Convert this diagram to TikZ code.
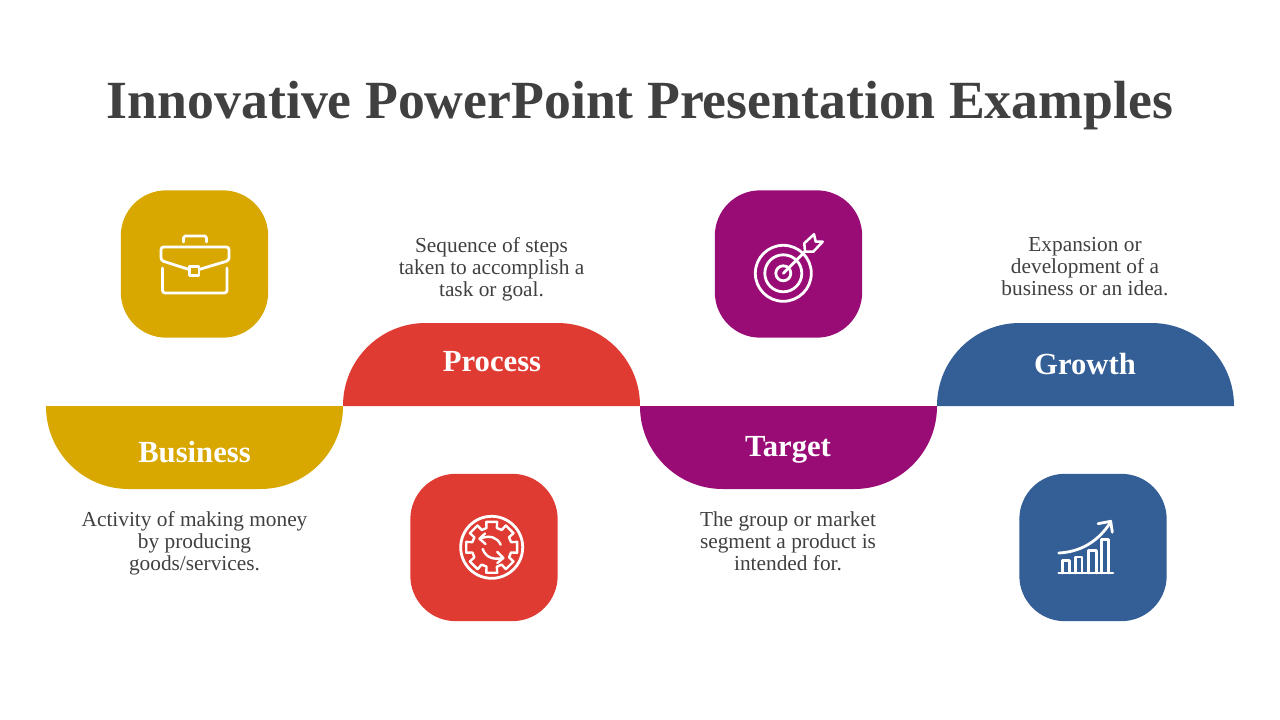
\documentclass[tikz,border=0pt]{standalone}
\usepackage{fontspec}
\setmainfont{Liberation Serif}
\usetikzlibrary{calc}
\definecolor{cgold}{HTML}{D8A800}
\definecolor{cred}{HTML}{E03B32}
\definecolor{cpurple}{HTML}{990C76}
\definecolor{cblue}{HTML}{335E96}
\definecolor{ctext}{HTML}{404040}
\tikzstyle{tile}=[rectangle,minimum width=110.5pt,minimum height=110.5pt,inner sep=0pt,rounded corners=34pt, anchor = center]
\tikzstyle{annot} = [align=center,text=ctext,inner sep=0pt,font=\fontsize{16}{16.5}\selectfont,execute at begin node=\strut,execute at end node=\strut]
\tikzstyle{head} = [align=center,text=white,font=\fontsize{23}{24}\selectfont\bfseries]
\tikzstyle{icon} = [draw=white,line width=2.1pt,line cap=round,line join=round]
\newcommand{\drawhump}[3]
{
  \fill[#1] (#2,406) [rounded corners=62pt] -- (#2,#3) -- ($(#2,#3)+(297,0)$) [sharp corners] -- ($(#2,406)+(297,0)$) -- cycle;
}

\begin{document}
\begin{tikzpicture}[x=0.75pt,y=-0.75pt]
	\useasboundingbox (0,0) rectangle (1280,720);

	\node[font=\fontsize{40.3}{48}\selectfont\bfseries,text=ctext] (title) at (640,106) {Innovative PowerPoint Presentation Examples};

	\drawhump{cgold}{46}{489}
	\drawhump{cred}{343}{323}
	\drawhump{cpurple}{640}{489}
	\drawhump{cblue}{937}{323}

	\node[head] (business) at (194.5,452) {Business};
	\node[head] (process) at (492,361.5) {Process};
	\node[head] (target) at (788,450) {Target};
	\node[head] (growth) at (1085,364) {Growth};

	\node[annot] (businesstext) at (194.5,544) {Activity of making money\\by producing\\goods/services.};
	\node[annot] (processtext) at (491.5,270) {Sequence of steps\\taken to accomplish a\\task or goal.};
	\node[annot] (targettext) at (788,544) {The group or market\\segment a product is\\intended for.};
	\node[annot] (growthtext) at (1085,270) {Expansion or\\development of a\\business or an idea.};

	\node[tile, fill=cgold] (businesstile) at (194.5,264) {};
	\node[tile, fill=cred] (processtile) at (484,547.5) {};
	\node[tile, fill=cpurple] (targettile) at (788.5,264) {};
	\node[tile, fill=cblue] (growthtile) at (1093,547.5) {};

	% briefcase
	\draw[icon] (183.5,242) -- (183.5,238) -- (185,236) -- (205,236) -- (206.5,238) -- (206.5,242);
	\draw[icon,rounded corners=2pt] (189,269.5) -- (161,260.5) -- (161,247) -- (229,247) -- (229,260.5) -- (199,269.5);
	\draw[icon] (189.5,266.5) rectangle (199,275.5);
	\draw[icon,rounded corners=2pt] (162.5,268) -- (162.5,293) -- (227,293) -- (227,268);

	% gear
	\coordinate (gearc) at (491.7,547.3);
	\draw[icon] (gearc) circle (31);
	\draw[icon,line width=1.8pt]
		\foreach \a [count=\i] in {0,45,...,315} {
			\ifnum\i=1 ($(gearc)+(\a-15:20)$) \else -- ($(gearc)+(\a-15:20)$) \fi
			-- ($(gearc)+(\a-12:26)$) -- ($(gearc)+(\a+12:26)$) -- ($(gearc)+(\a+15:20)$)
		} -- cycle;
	\draw[icon,line width=1.8pt] (500.7,544.7) .. controls (497,537) and (490,535) .. (480,538.5);
	\draw[icon,line width=1.8pt] (485,533.5) -- (479.5,538.7) -- (485.5,544);
	\draw[icon,line width=1.8pt] (482.7,549) .. controls (486,558) and (494,560) .. (503,558);
	\draw[icon,line width=1.8pt] (497.3,552) -- (503.3,558) -- (497.3,563);

	% target
	\draw[icon] (783.3,273.3) circle (28);
	\draw[icon] (783.3,273.3) circle (18.5);
	\draw[icon] (783.3,273.3) circle (7.5);
	\draw[icon] (783.3,273.3) -- (805,251.7);
	\draw[icon,line width=1.9pt] (804.3,243.3) -- (814,234.3) -- (815.7,241.7) -- (822.7,241.7) -- (813.3,251.7) -- (805,251.7) -- cycle;

	% growth
	\draw[icon] (1058.7,573) -- (1113,573);
	\foreach \xa/\xb/\ytop in {1062.3/1069.7/560.3,1075.3/1082/557,1088.7/1096.3/550.3,1101.3/1108.7/539.7}
		\draw[icon] (\xa,573) -- (\xa,\ytop) -- (\xb,\ytop) -- (\xb,573);
	\draw[icon] (1058.7,553) .. controls (1080,552) and (1098,542) .. (1110.7,522);
	\draw[icon] (1098,523.7) -- (1110.7,521.3) -- (1112.3,532.3);
\end{tikzpicture}
\end{document}
